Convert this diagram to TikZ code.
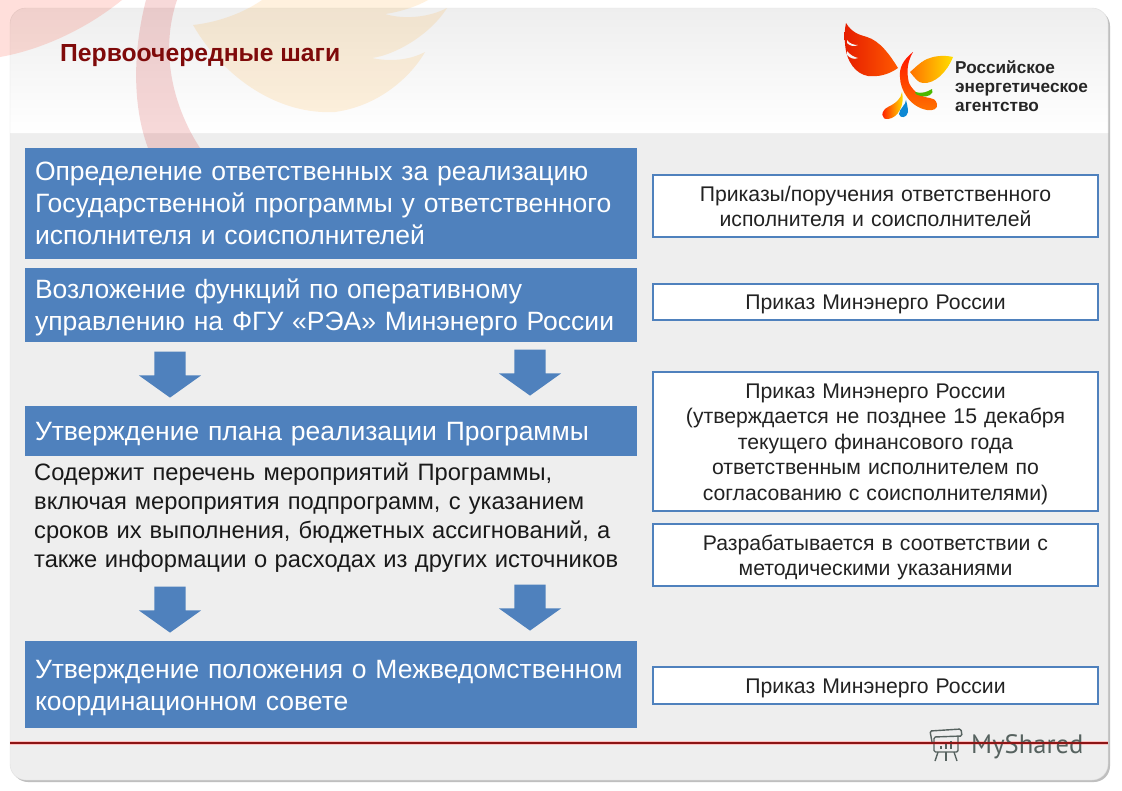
\documentclass[tikz,border=0pt]{standalone}
\usepackage{fontspec}
\setmainfont{Liberation Sans}
\newfontfamily\wmfont{PT Sans}
\usetikzlibrary{shapes}
\usetikzlibrary{shapes.arrows}
\pgfdeclarelayer{edgelayer}
\pgfdeclarelayer{nodelayer}
\pgfsetlayers{edgelayer,nodelayer,main}
\definecolor{stepblue}{HTML}{4F81BD}
\definecolor{panelgrey}{HTML}{EEEEEE}
\definecolor{titlered}{HTML}{7F0A0A}
\definecolor{noteink}{HTML}{222222}
\definecolor{rulered}{HTML}{8C1515}
\definecolor{wmgrey}{HTML}{56625F}
\newcommand{\topgap}[1]{\rule{0pt}{#1pt}}
\newcommand{\wideline}[2]{\makebox[#1pt][s]{#2}}
\tikzstyle{none}=[inner sep=0pt]
\tikzstyle{stepbox}=[fill=stepblue,text=white,inner xsep=10pt,inner ysep=0pt,text width=592pt,align=left,font=\fontsize{26.5}{32}\selectfont]
\tikzstyle{notebox}=[draw=stepblue,line width=2.5pt,fill=white,text=noteink,inner sep=0pt,minimum width=445pt,text width=440pt,align=center,font=\fontsize{21.2}{25.6}\selectfont]
\tikzstyle{downarrow}=[fill=stepblue,shape=single arrow,rotate=-90,inner sep=0pt,text width=0pt,text height=31pt,text depth=0pt,minimum height=46pt,minimum width=62pt,single arrow head extend=15.5pt,single arrow tip angle=109,single arrow head indent=0pt]
\begin{document}
\begin{tikzpicture}[x=1pt,y=-1pt]
	\useasboundingbox (0, 0) rectangle (1122, 790);
	\begin{pgfonlayer}{edgelayer}
		\fill [white] (0, 0) rectangle (1122, 790);
		\fill [black!25, rounded corners=16pt] (12, 10) rectangle (1110, 782);
		\fill [panelgrey, rounded corners=16pt] (10, 8) rectangle (1108, 780);
		\shade [top color=panelgrey, middle color=panelgrey!70!white, bottom color=white] (10, 133) [rounded corners=16pt] -- (10, 8) -- (1108, 8) -- (1108, 60) [sharp corners] -- (1108, 133) -- cycle;
		\draw [black!12, rounded corners=16pt] (10, 8) rectangle (1108, 780);
		\fill [red!75!orange, opacity=0.14] (0, 0) -- (122, 0) .. controls (85, 30) and (40, 50) .. (0, 57) -- cycle;
		\fill [red!80!black, opacity=0.15] (146, 0) .. controls (133, 50) and (132, 105) .. (148, 148) -- (200, 148) .. controls (172, 105) and (160, 50) .. (177, 0) -- cycle;
		\fill [orange!80!yellow, opacity=0.13] (262, 0) .. controls (245, 12) and (220, 22) .. (193, 25) .. controls (225, 80) and (280, 115) .. (335, 112) .. controls (385, 105) and (415, 70) .. (425, 52) .. controls (410, 60) and (390, 62) .. (372, 58) .. controls (395, 55) and (430, 35) .. (447, 8) .. controls (430, 17) and (405, 20) .. (385, 14) .. controls (400, 12) and (418, 6) .. (428, 0) -- cycle;
		\shade [left color=red!75!orange!90!black, right color=orange!70!red] (846, 23) .. controls (852, 33) and (860, 35) .. (867, 37) .. controls (880, 41) and (890, 55) .. (898, 68) .. controls (888, 75) and (878, 77) .. (868, 76) .. controls (856, 74) and (846, 62) .. (845, 43) .. controls (844, 35) and (845, 28) .. (846, 23) -- cycle;
		\fill [panelgrey!60!white] (847, 40) .. controls (850, 44) and (854, 45) .. (858, 45) .. controls (854, 47) and (850, 46) .. (847, 43) -- cycle;
		\fill [panelgrey!60!white] (847, 51) .. controls (850, 55) and (854, 57) .. (858, 58) .. controls (854, 60) and (850, 58) .. (847, 55) -- cycle;
		\shade [left color=orange!90!red, right color=yellow!75!orange] (953, 57) .. controls (945, 55) and (935, 56) .. (930, 58) .. controls (922, 60) and (915, 68) .. (910, 72) .. controls (915, 78) and (918, 83) .. (923, 83) .. controls (935, 84) and (947, 72) .. (953, 57) -- cycle;
		\shade [top color=red!85!orange, bottom color=orange!90!red] (913, 52) .. controls (903, 60) and (899, 68) .. (900, 77) .. controls (900, 90) and (910, 107) .. (927, 110) .. controls (933, 111) and (938, 109) .. (937, 104) .. controls (936, 100) and (933, 98) .. (930, 98) .. controls (922, 97) and (914, 93) .. (909, 83) .. controls (907, 75) and (906, 64) .. (913, 52) -- cycle;
		\fill [green!60!black!70!yellow] (915, 92) .. controls (922, 94) and (927, 92) .. (932, 89) .. controls (935, 94) and (927, 98) .. (921, 96) .. controls (918, 96) and (915, 94) .. (915, 92) -- cycle;
		\shade [left color=red!90!orange, right color=yellow!90!orange] (902, 92) .. controls (901, 99) and (896, 103) .. (888, 107) .. controls (880, 111) and (881, 120) .. (888, 119) .. controls (898, 118) and (905, 105) .. (902, 92) -- cycle;
		\fill [cyan!70!blue] (906, 100) .. controls (906, 105) and (899, 109) .. (899, 114) .. controls (900, 119) and (907, 118) .. (908, 112) .. controls (908, 108) and (907, 104) .. (906, 100) -- cycle;
		\draw [red!25!white, line width=3.5pt] (10, 743) -- (1108, 743);
		\draw [wmgrey, line width=1.4pt, rounded corners=1.5pt] (932, 742) -- (930, 731) -- (961, 729) -- (962, 736) -- (934, 737) -- (934, 752) -- (958, 752) -- (958, 737);
		\draw [wmgrey, line width=1.4pt] (938, 752) -- (935, 761);
		\draw [wmgrey, line width=1.4pt] (946, 752) -- (946, 761);
		\draw [wmgrey, line width=1.4pt] (954, 752) -- (957, 761);
		\draw [wmgrey, line width=1.8pt] (941, 749) -- (941, 746);
		\draw [wmgrey, line width=1.8pt] (946, 749) -- (946, 743);
		\draw [wmgrey, line width=1.8pt] (951, 749) -- (951, 741);
	\end{pgfonlayer}
	\begin{pgfonlayer}{nodelayer}
		\node [style=none, anchor=west, text=titlered, font=\fontsize{24.7}{28}\selectfont\bfseries] (0) at (60, 56) {Первоочередные шаги};
		\node [style=none, anchor=west, align=left, text=black!85, font=\fontsize{17.2}{19}\selectfont\bfseries] (1) at (955, 86) {Российское\\энергетическое\\агентство};
		\node [style=stepbox, minimum height=111pt] (2) at (331, 203.5) {Определение ответственных за реализацию\\Государственной программы у ответственного\\исполнителя и соисполнителей};
		\node [style=stepbox, minimum height=74pt] (3) at (331, 305) {\topgap{24}Возложение функций по оперативному\\управлению на ФГУ «РЭА» Минэнерго России};
		\node [style=stepbox, minimum height=50pt] (4) at (331, 431) {\topgap{24}Утверждение плана реализации Программы};
		\node [style=none, anchor=north west, align=left, text=black!90, font=\fontsize{23.7}{29}\selectfont] (5) at (34, 462.5) {\wideline{518}{Содержит перечень мероприятий Программы,}\\\wideline{550}{включая мероприятия подпрограмм, с указанием}\\\wideline{576}{сроков их выполнения, бюджетных ассигнований, а}\\\wideline{584}{также информации о расходах из других источников}};
		\node [style=stepbox, minimum height=87pt] (6) at (331, 684.5) {\topgap{26}Утверждение положения о Межведомственном\\координационном совете};
		\node [style=notebox, minimum height=62pt] (7) at (875.5, 206) {\topgap{16.5}Приказы/поручения ответственного\\исполнителя и соисполнителей};
		\node [style=notebox, minimum height=36pt] (8) at (875.5, 302) {\topgap{20}Приказ Минэнерго России};
		\node [style=notebox, minimum height=139pt] (9) at (875.5, 441.5) {\topgap{20}Приказ Минэнерго России\\(утверждается не позднее 15 декабря\\текущего финансового года\\ответственным исполнителем по\\согласованию с соисполнителями)};
		\node [style=notebox, minimum height=62pt] (10) at (875.5, 555) {\topgap{20}Разрабатывается в соответствии с\\методическими указаниями};
		\node [style=notebox, minimum height=37pt] (11) at (875.5, 685.5) {\topgap{20}Приказ Минэнерго России};
		\node [style=downarrow] (12) at (170, 369) {};
		\node [style=downarrow] (13) at (530, 367) {};
		\node [style=downarrow] (14) at (170, 604) {};
		\node [style=downarrow] (15) at (530, 602) {};
		\node [style=none, anchor=west, text=wmgrey, font=\fontsize{26.6}{30}\selectfont\wmfont] (16) at (971, 747) {MyShared};
	\end{pgfonlayer}
	\draw [rulered, line width=1.6pt] (10, 743) -- (1108, 743);
\end{tikzpicture}
\end{document}
